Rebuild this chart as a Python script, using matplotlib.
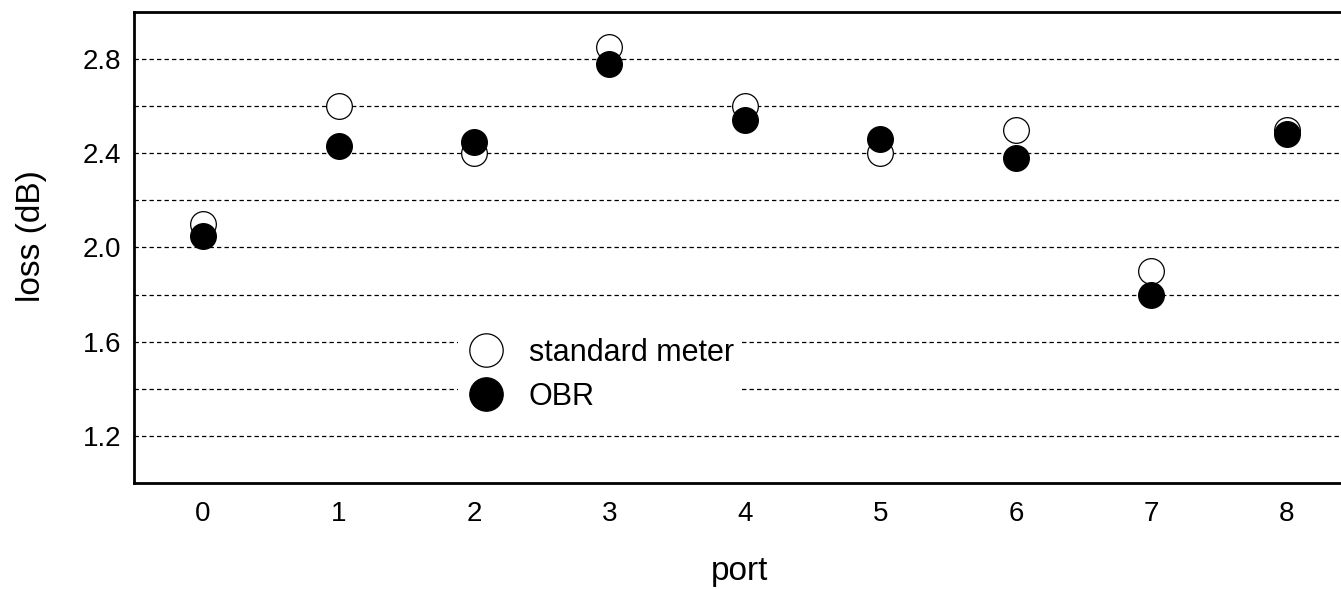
import numpy as np
import matplotlib
matplotlib.use("Agg")
import matplotlib.pyplot as plt

plt.rcParams['font.family'] = ['Liberation Sans', 'DejaVu Sans']

ports = [0, 1, 2, 3, 4, 5, 6, 7, 8]
standard_meter = [2.10, 2.60, 2.40, 2.85, 2.60, 2.40, 2.50, 1.90, 2.50]
obr = [2.05, 2.43, 2.45, 2.78, 2.54, 2.46, 2.38, 1.80, 2.48]

yticks = [1.2, 1.6, 2.0, 2.4, 2.8]
grid_lines = [1.2, 1.4, 1.6, 1.8, 2.0, 2.2, 2.4, 2.6, 2.8]

fig = plt.figure(figsize=(13.41, 5.89), dpi=100)
ax = fig.add_axes([0.0999, 0.18, 0.9001, 0.7996])

# dashed horizontal lines every 0.2
for g in grid_lines:
    ax.axhline(g, color='black', lw=0.9, ls=(0, (3.5, 2.5)), zorder=1)

ax.plot(ports, standard_meter, 'o', ms=18.5, mfc='white', mec='black', mew=0.9,
        label='standard meter', zorder=3)
ax.plot(ports, obr, 'o', ms=18.5, mfc='black', mec='black', mew=0.9,
        label='OBR', zorder=4)

ax.set_xlim(-0.51, 8.4)
ax.set_ylim(1.0, 3.0)
ax.set_xticks(ports)
ax.set_yticks(yticks)
ax.set_yticklabels(['%.1f' % t for t in yticks])
ax.tick_params(length=0, labelsize=20)
ax.tick_params(axis='x', pad=13)
ax.tick_params(axis='y', pad=9)

for s in ['left', 'bottom', 'top']:
    ax.spines[s].set_linewidth(2)
ax.spines['right'].set_visible(False)

ax.set_xlabel('port', fontsize=24)
ax.set_ylabel('loss (dB)', fontsize=24)
ax.xaxis.set_label_coords(0.502, -0.155)
ax.yaxis.set_label_coords(-0.072, 0.524)

leg = ax.legend(loc='center', bbox_to_anchor=(0.386, 0.230), fontsize=22,
                frameon=True, fancybox=False, handletextpad=0.75,
                labelspacing=0.45, borderpad=0.25, handlelength=1.3,
                markerscale=1.3)
leg.get_frame().set_edgecolor('none')
leg.get_frame().set_facecolor('white')
leg.get_frame().set_alpha(1)
leg.set_zorder(5)

fig.savefig('out.png', dpi=100)
